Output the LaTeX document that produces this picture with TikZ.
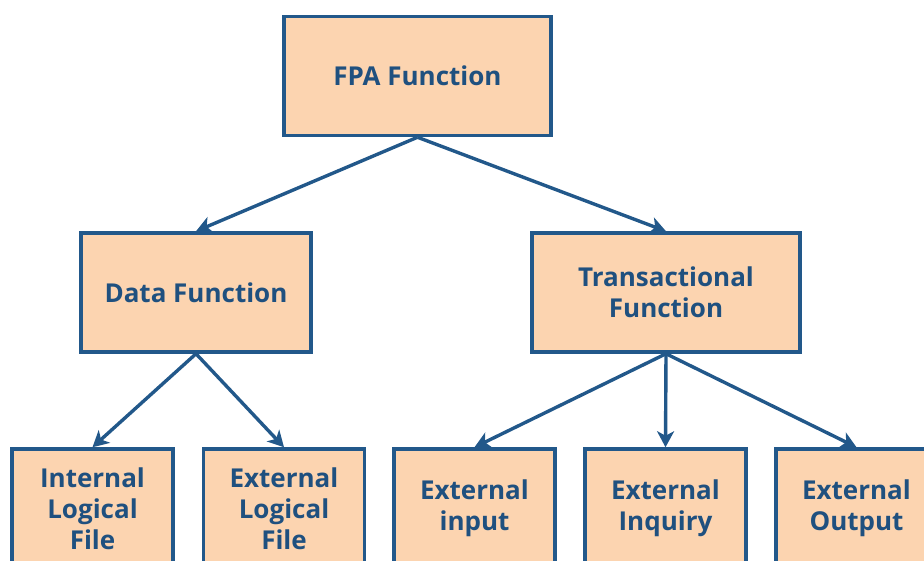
\documentclass[tikz,border=0pt]{standalone}
\usepackage{fontspec}
\setmainfont{Open Sans}
\usetikzlibrary{arrows.meta}
\definecolor{boxfill}{HTML}{FCD4B0}
\definecolor{boxline}{HTML}{22588A}
\definecolor{boxtext}{HTML}{1F507F}
\tikzset{
    fbox/.style={draw=boxline, fill=boxfill, line width=3.5pt, text=boxtext,
        font=\fontsize{26}{31}\selectfont\bfseries, align=center,
        inner sep=0pt, minimum height=119pt},
    farrow/.style={draw=boxline, line width=3.4pt,
        -{Stealth[length=16pt,width=17pt,inset=4.5pt]}}
}
\begin{document}
\begin{tikzpicture}[x=1pt,y=-1pt]
        \useasboundingbox (0,0) rectangle (924,561);
        \clip (0,0) rectangle (924,561);
        \node[fbox, minimum width=267pt] (fpa) at (417.5,76) {FPA Function};
        \node[fbox, minimum width=230pt] (data) at (196,292.5) {Data Function};
        \node[fbox, minimum width=268pt] (trans) at (666,292.5) {Transactional\\Function};
        \foreach \name/\x/\txt in {ilf/92.5/Internal\\Logical\\File, elf/284/External\\Logical\\File,
            ei/474.5/External\\input, eq/665.5/External\\Inquiry, eo/856.5/External\\Output}
        {
            \node[fbox, minimum width=161pt] (\name) at (\x,508.5) {\txt};
        }
        \draw[farrow] (fpa.south) -- (data.north);
        \draw[farrow] (fpa.south) -- (trans.north);
        \draw[farrow] (data.south) -- (ilf.north);
        \draw[farrow] (data.south) -- (elf.north);
        \draw[farrow] (trans.south) -- (ei.north);
        \draw[farrow] (trans.south) -- (eq.north);
        \draw[farrow] (trans.south) -- (eo.north);
    \end{tikzpicture}
\end{document}
